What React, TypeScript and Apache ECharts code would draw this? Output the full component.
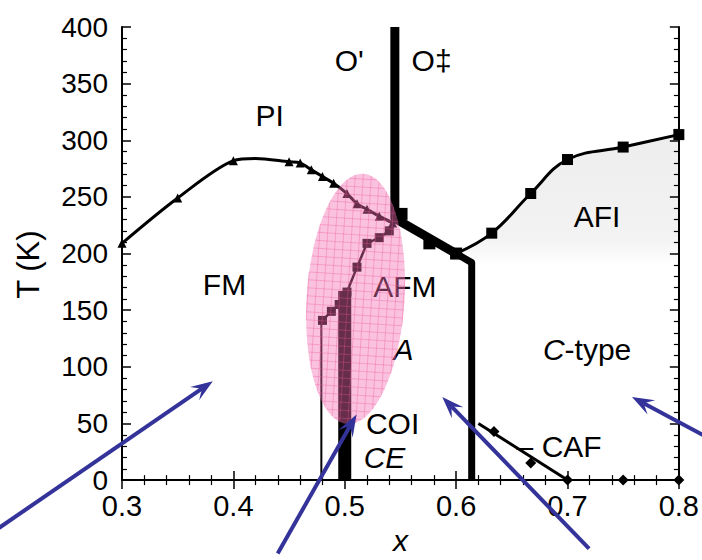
import React, { useEffect, useRef } from "react";
import * as echarts from "echarts";

// ---------- data (x = doping, T in K) ----------
const fmPiBoundary: number[][] = [
  [0.3, 209], [0.35, 249], [0.4, 282], [0.42, 284], [0.45, 281], [0.46, 280], [0.47, 274],
  [0.48, 268], [0.49, 262], [0.502, 253], [0.511, 244], [0.52, 239], [0.531, 233], [0.543, 227],
];
const fmPiMarked = [true, true, true, false, true, true, true, true, true, true, true, true, true, true];
const afiBoundary: number[][] = [
  [0.6, 200], [0.632, 218], [0.667, 253], [0.7, 283], [0.75, 294], [0.8, 305],
];
const structuralUpper: number[][] = [[0.545, 400], [0.545, 231], [0.6, 200]];
const structuralLower: number[][] = [[0.6, 200], [0.614, 192], [0.614, 0]];
const structuralSquares: number[][] = [[0.551, 235], [0.576, 209], [0.6, 200]];
const afmBoundary: number[][] = [
  [0.54, 220], [0.531, 214], [0.52, 209], [0.511, 188], [0.502, 166],
  [0.495, 155], [0.488, 149], [0.48, 141],
];
const coiBar: number[][] = [[0.5, 0], [0.5, 167]];
const ceLine: number[][] = [[0.479, 0], [0.479, 141]];
const cafLine: number[][] = [[0.62, 50], [0.7, 0]];
const cafDiamonds: number[][] = [[0.634, 43], [0.667, 15], [0.7, 0], [0.75, 0], [0.8, 0]];

const regionNames = ["PI", "O'", "O‡", "FM", "AFM", "AFI", "{i|A}", "{i|C}-type", "COI", "{i|CE}", "– CAF"];
const regionX = [0.4326, 0.504, 0.578, 0.392, 0.554, 0.7265, 0.5527, 0.7176, 0.543, 0.5357, 0.6925];
const regionT = [322, 370, 370, 173, 171, 233, 115, 115, 50, 20, 30];

// highlight ellipse: centre x, centre T, half-width (x units), half-height (K)
const highlight = [0.5097, 160, 0.0439, 110.6];

// arrows: tail x, tail T, tip x, tip T
const arrows: number[][] = [
  [0.1817, -47.5, 0.3815, 87.3],
  [0.4398, -64.8, 0.5106, 57.9],
  [0.7194, -60.5, 0.5876, 73.4],
  [0.8269, 37.1, 0.7579, 73.4],
];

const FONT = "'Liberation Sans', Arial, Helvetica, sans-serif";

function axisCommon(showLabel: boolean) {
  return {
    axisLine: { show: true, lineStyle: { color: "#000", width: 2 } },
    axisTick: { show: true, inside: true, length: 9, lineStyle: { color: "#000", width: 1.5 } },
    minorTick: { show: true, splitNumber: 5, length: 5, lineStyle: { color: "#000", width: 1.2 } },
    splitLine: { show: false },
    axisLabel: { show: showLabel },
  };
}

export default function App() {
  const ref = useRef<HTMLDivElement>(null);
  useEffect(() => {
    document.body.style.margin = "0";
    const chart = echarts.init(ref.current!, null, { renderer: "svg" });
    const xBase = { type: "value", min: 0.3, max: 0.8, interval: 0.1 };
    const yBase = { type: "value", min: 0, max: 400, interval: 50 };
    const option: any = {
      animation: false,
      backgroundColor: "#fff",
      textStyle: { fontFamily: FONT },
      grid: { left: 122, right: 22, top: 27, bottom: 70 },
      xAxis: [
        {
          ...xBase,
          position: "bottom",
          ...axisCommon(true),
          axisLabel: {
            show: true, fontSize: 29, color: "#000", margin: 11, fontFamily: FONT,
            formatter: (v: number) => v.toFixed(1),
          },
          name: "x",
          nameLocation: "middle",
          nameGap: 42,
          nameTextStyle: { fontSize: 30, fontStyle: "italic", color: "#000", fontFamily: FONT },
        },
        { ...xBase, position: "top", ...axisCommon(false) },
      ],
      yAxis: [
        {
          ...yBase,
          position: "left",
          ...axisCommon(true),
          axisLabel: { show: true, fontSize: 28, color: "#000", margin: 14, fontFamily: FONT },
          name: "T (K)",
          nameLocation: "middle",
          nameGap: 78,
          nameTextStyle: { fontSize: 31, color: "#000", fontFamily: FONT, padding: [0, 22, 0, 0] },
        },
        { ...yBase, position: "right", ...axisCommon(false) },
      ],
      series: [
        {
          type: "line",
          data: afiBoundary,
          smooth: 0.4,
          symbol: "rect",
          symbolSize: 11,
          lineStyle: { color: "#000", width: 3 },
          itemStyle: { color: "#000", opacity: 1 },
          areaStyle: {
            color: new echarts.graphic.LinearGradient(0, 0, 0, 1, [
              { offset: 0, color: "rgba(0,0,0,0.10)" },
              { offset: 0.3, color: "rgba(0,0,0,0.07)" },
              { offset: 0.38, color: "rgba(0,0,0,0)" },
              { offset: 1, color: "rgba(0,0,0,0)" },
            ]),
          },
          z: 2,
        },
        {
          type: "line",
          data: fmPiBoundary.map((p, i) => ({ value: p, symbol: fmPiMarked[i] ? "triangle" : "none" })),
          smooth: 0.3,
          symbol: "triangle",
          symbolSize: 9,
          lineStyle: { color: "#000", width: 3 },
          itemStyle: { color: "#000", opacity: 1 },
          z: 2,
        },
        {
          type: "line",
          data: structuralUpper,
          symbol: "none",
          lineStyle: { color: "#000", width: 9, join: "round" },
          z: 2,
        },
        {
          type: "line",
          data: structuralLower,
          symbol: "none",
          lineStyle: { color: "#000", width: 7, join: "round" },
          z: 2,
        },
        {
          type: "scatter",
          data: structuralSquares,
          symbol: "rect",
          symbolSize: 12,
          itemStyle: { color: "#000", opacity: 1 },
          z: 3,
        },
        {
          type: "line",
          data: afmBoundary,
          symbol: "rect",
          symbolSize: 9,
          lineStyle: { color: "#000", width: 2.5 },
          itemStyle: { color: "#000", opacity: 1 },
          z: 2,
        },
        {
          type: "line",
          data: coiBar,
          symbol: "none",
          lineStyle: { color: "#000", width: 13, cap: "butt" },
          z: 2,
        },
        {
          type: "line",
          data: ceLine,
          symbol: "none",
          lineStyle: { color: "#000", width: 2 },
          z: 2,
        },
        {
          type: "line",
          data: cafLine,
          symbol: "none",
          lineStyle: { color: "#000", width: 3 },
          z: 2,
        },
        {
          type: "scatter",
          data: cafDiamonds,
          symbol: "diamond",
          symbolSize: 11,
          clip: false,
          itemStyle: { color: "#000", opacity: 1 },
          z: 3,
        },
        {
          type: "scatter",
          symbolSize: 0,
          silent: true,
          z: 3,
          itemStyle: { opacity: 1 },
          data: regionNames.map((n, i) => ({
            value: [regionX[i], regionT[i]],
            label: {
              show: true,
              position: "inside",
              formatter: n,
              fontSize: 30,
              color: "#000",
              opacity: 1,
              fontFamily: FONT,
              rich: {
                i: { fontStyle: "italic", fontSize: 30, color: "#000", fontFamily: FONT },
              },
            },
          })),
        },
        {
          type: "custom",
          z: 5,
          silent: true,
          clip: false,
          data: [highlight],
          renderItem: (params: any, api: any) => {
            const c = api.coord([api.value(0), api.value(1)]);
            const rx = api.size([api.value(2), 0])[0];
            const ry = api.size([0, api.value(3)])[1];
            const children: any[] = [
              { type: "ellipse", shape: { cx: 0, cy: 0, rx, ry }, style: { fill: "rgba(244,110,176,0.42)" } },
            ];
            const step = 8;
            for (let gx = -Math.floor(rx / step) * step; gx < rx; gx += step) {
              const h = ry * Math.sqrt(Math.max(0, 1 - (gx / rx) ** 2));
              children.push({
                type: "line",
                shape: { x1: gx, y1: -h, x2: gx, y2: h },
                style: { stroke: "rgba(238,90,160,0.35)", lineWidth: 1 },
              });
            }
            for (let gy = -Math.floor(ry / step) * step; gy < ry; gy += step) {
              const w = rx * Math.sqrt(Math.max(0, 1 - (gy / ry) ** 2));
              children.push({
                type: "line",
                shape: { x1: -w, y1: gy, x2: w, y2: gy },
                style: { stroke: "rgba(238,90,160,0.35)", lineWidth: 1 },
              });
            }
            return { type: "group", x: c[0], y: c[1], rotation: -0.063, children };
          },
        },
        {
          type: "custom",
          z: 6,
          silent: true,
          clip: false,
          data: arrows,
          renderItem: (params: any, api: any) => {
            const p1 = api.coord([api.value(0), api.value(1)]);
            const p2 = api.coord([api.value(2), api.value(3)]);
            const dx = p2[0] - p1[0];
            const dy = p2[1] - p1[1];
            const len = Math.sqrt(dx * dx + dy * dy);
            const ux = dx / len, uy = dy / len;
            const nx = -uy, ny = ux;
            const L = 22, W = 8;
            const notch = [p2[0] - ux * L * 0.6, p2[1] - uy * L * 0.6];
            const color = "#33339a";
            return {
              type: "group",
              children: [
                {
                  type: "line",
                  shape: { x1: p1[0], y1: p1[1], x2: notch[0], y2: notch[1] },
                  style: { stroke: color, lineWidth: 4 },
                },
                {
                  type: "polygon",
                  shape: {
                    points: [
                      [p2[0], p2[1]],
                      [p2[0] - ux * L + nx * W, p2[1] - uy * L + ny * W],
                      notch,
                      [p2[0] - ux * L - nx * W, p2[1] - uy * L - ny * W],
                    ],
                  },
                  style: { fill: color },
                },
              ],
            };
          },
        },
      ],
    };
    chart.setOption(option);
    return () => chart.dispose();
  }, []);
  return <div ref={ref} style={{ width: 702, height: 560 }} />;
}
